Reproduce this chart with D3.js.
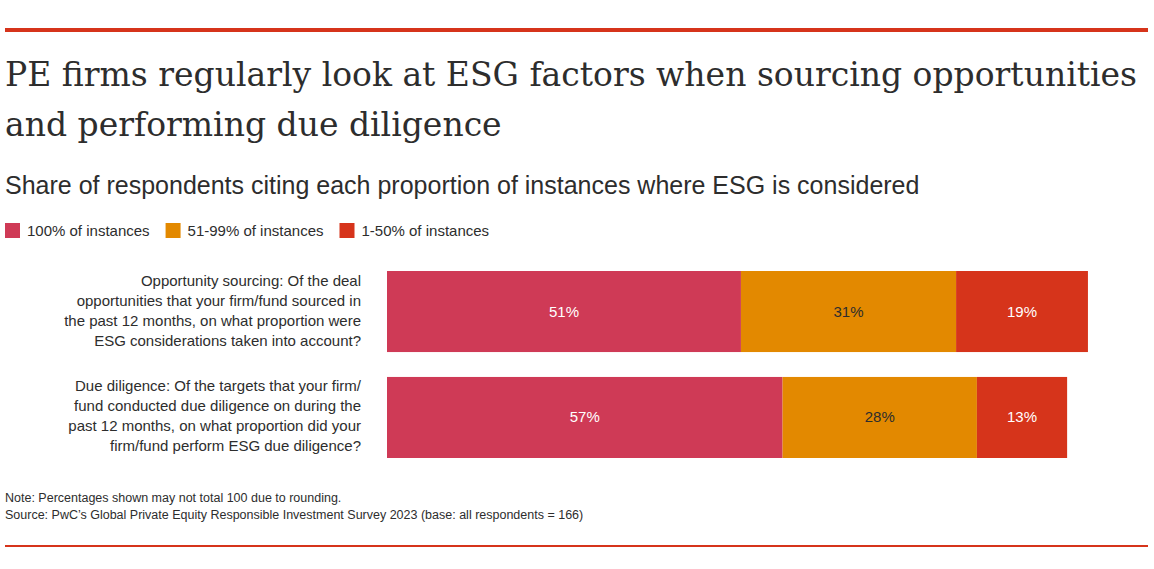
<!DOCTYPE html>
<html><head><meta charset="utf-8">
<script src="https://cdn.jsdelivr.net/npm/d3@7"></script>
<style>body{margin:0;background:#fff}svg{display:block}</style>
</head><body>
<svg id="c" width="1154" height="569"></svg>
<script>
const titleLines = ["PE firms regularly look at ESG factors when sourcing opportunities","and performing due diligence"];
const subtitle = "Share of respondents citing each proportion of instances where ESG is considered";
const seriesNames = ["100% of instances","51-99% of instances","1-50% of instances"];
const seriesColors = ["#cf3a56","#e38900","#d6341b"];
const categories = [
 ["Opportunity sourcing: Of the deal","opportunities that your firm/fund sourced in","the past 12 months, on what proportion were","ESG considerations taken into account?"],
 ["Due diligence: Of the targets that your firm/","fund conducted due diligence on during the","past 12 months, on what proportion did your","firm/fund perform ESG due diligence?"]
];
const values100 = [51,57];
const values51_99 = [31,28];
const values1_50 = [19,13];
const notes = ["Note: Percentages shown may not total 100 due to rounding.","Source: PwC’s Global Private Equity Responsible Investment Survey 2023 (base: all respondents = 166)"];

const svg = d3.select("#c");
const sans = "'Liberation Sans', Arial, sans-serif";
svg.append("rect").attr("x",5).attr("y",28).attr("width",1143).attr("height",4).attr("fill","#d6341b");
svg.append("rect").attr("x",5).attr("y",545).attr("width",1143).attr("height",2).attr("fill","#d6341b");
svg.selectAll("text.t").data(titleLines).join("text").attr("x",5).attr("y",(d,i)=>86+i*50)
 .attr("font-family","'DejaVu Serif', Georgia, serif").attr("font-size",33).attr("fill","#2d2d2d").text(d=>d);
svg.append("text").attr("x",5).attr("y",194).attr("font-family",sans).attr("font-size",25).attr("fill","#2d2d2d").text(subtitle);

const lg = svg.append("g");
let lx = 5;
seriesNames.forEach((n,i)=>{
  lg.append("rect").attr("x",lx).attr("y",223).attr("width",15).attr("height",15).attr("fill",seriesColors[i]);
  const t = lg.append("text").attr("x",lx+22).attr("y",236).attr("font-family",sans).attr("font-size",15).attr("fill","#2d2d2d").text(n);
  lx += 22 + t.node().getComputedTextLength() + 16;
});

const x = d3.scaleLinear().domain([0,100]).range([387,1081]);
const y = d3.scaleBand().domain(d3.range(categories.length)).range([271,458]).paddingInner(0.235);
const series = [values100, values51_99, values1_50];
categories.forEach((c,ci)=>{
  let acc = 0;
  series.forEach((s,si)=>{
    const v = s[ci];
    svg.append("rect").attr("x",x(acc)).attr("y",y(ci)).attr("width",x(acc+v)-x(acc)).attr("height",y.bandwidth()).attr("fill",seriesColors[si]);
    svg.append("text").attr("x",(x(acc)+x(acc+v))/2).attr("y",y(ci)+y.bandwidth()/2+5).attr("text-anchor","middle")
      .attr("font-family",sans).attr("font-size",15).attr("fill",si==1?"#2d2d2d":"#fff").text(v+"%");
    acc += v;
  });
  c.forEach((line,li)=>{
    svg.append("text").attr("x",361).attr("y",y(ci)+y.bandwidth()/2-31+li*20+5).attr("text-anchor","end")
      .attr("font-family",sans).attr("font-size",15).attr("fill","#2d2d2d").text(line);
  });
});
notes.forEach((n,i)=>svg.append("text").attr("x",5).attr("y",502+i*17).attr("font-family",sans).attr("font-size",12.5).attr("fill","#2d2d2d").text(n));
</script>
</body></html>
